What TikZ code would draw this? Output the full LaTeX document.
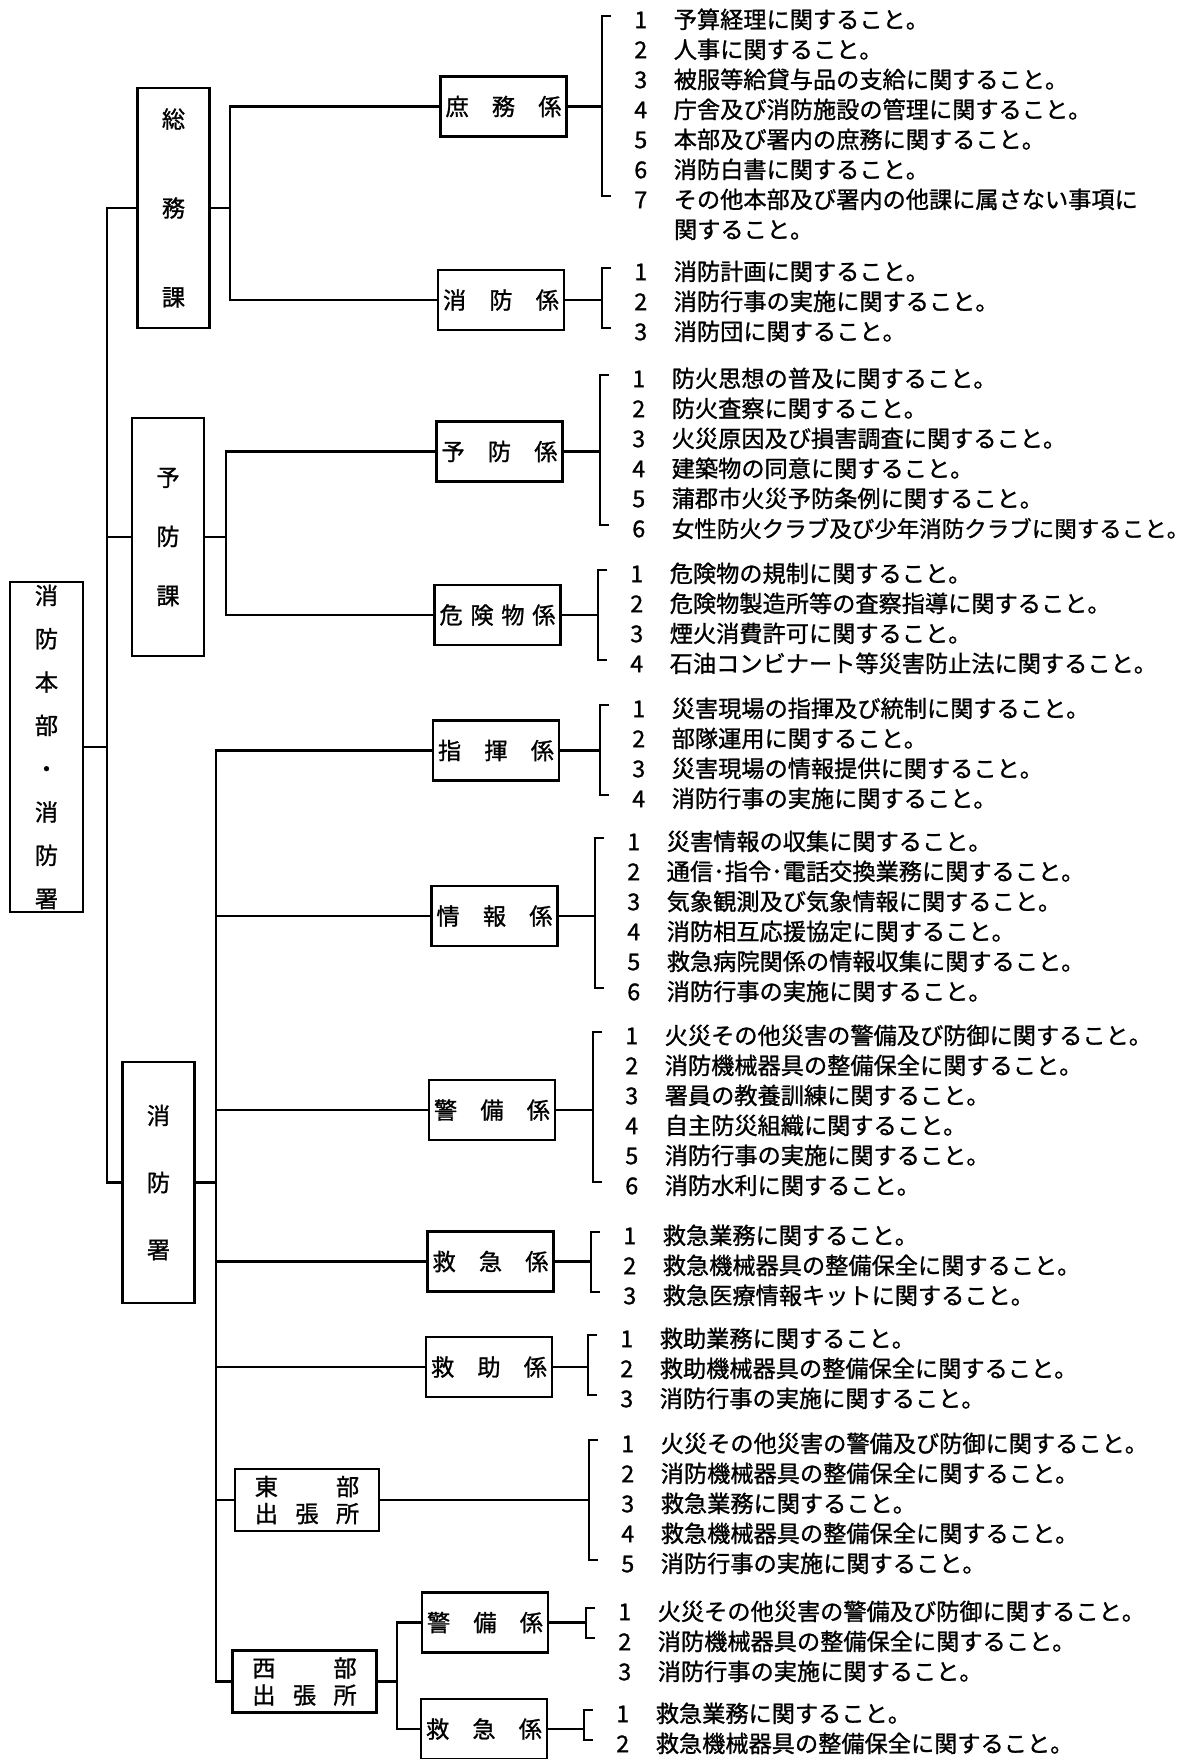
\documentclass[tikz,border=0pt]{standalone}
\usepackage{fontspec}
\setmainfont{Noto Sans CJK JP}[FakeBold=1.1]

\begin{document}
\begin{tikzpicture}[x=0.025cm, y=-0.025cm, line width=1.9pt,
    font=\fontsize{16.5pt}{21pt}\selectfont]
    %organigramme
\tikzset{
    kabox/.style={draw, inner sep=0pt, minimum width=1.8cm, align=center},
    kakari/.style={draw, inner sep=0pt, minimum width=3.15cm, minimum height=1.5cm},
    shucho/.style={draw, inner sep=0pt, minimum width=3.6cm, minimum height=1.55cm,
        align=center, font=\fontsize{16.5pt}{19.2pt}\selectfont},
    item/.style={anchor=west, inner sep=0pt, text height=0.83em, text depth=0.09em}
}
    \useasboundingbox (0,0) rectangle (1199,1759);

    % honbu et ka
    \node[kabox, minimum width=1.825cm, minimum height=8.25cm, font=\fontsize{16.5pt}{30.8pt}\selectfont](honbu) at (46.5,747) {消\\防\\本\\部\\・\\消\\防\\署};
    \node[kabox, minimum height=6cm, font=\fontsize{16.5pt}{63.3pt}\selectfont](somu) at (173.5,208) {総\\務\\課};
    \node[kabox, minimum height=5.95cm, font=\fontsize{16.5pt}{42pt}\selectfont](yobo) at (168,537) {予\\防\\課};
    \node[kabox, minimum height=6.025cm, font=\fontsize{16.5pt}{47.7pt}\selectfont](shobosho) at (158.5,1182.5) {消\\防\\署};

    % kakari
    \node[kakari](shomu) at (503.5,106.5) {\makebox[5em][s]{庶 務 係}};
    \node[kakari](shobo) at (501,300) {\makebox[5em][s]{消 防 係}};
    \node[kakari](yobokakari) at (499.5,451.5) {\makebox[5em][s]{予 防 係}};
    \node[kakari](kiken) at (497.5,615) {\makebox[5em][s]{危 険 物 係}};
    \node[kakari](shiki) at (496,750.5) {\makebox[5em][s]{指 揮 係}};
    \node[kakari](joho) at (494.5,916) {\makebox[5em][s]{情 報 係}};
    \node[kakari](keibi) at (492,1110) {\makebox[5em][s]{警 備 係}};
    \node[kakari](kyukyu) at (490.5,1261.5) {\makebox[5em][s]{救 急 係}};
    \node[kakari](kyujo) at (489,1367) {\makebox[5em][s]{救 助 係}};
    \node[shucho](tobu) at (307,1500) {\makebox[4.5em][s]{東 部}\\\makebox[4.5em][s]{出 張 所}};
    \node[shucho](seibu) at (304.5,1681.5) {\makebox[4.5em][s]{西 部}\\\makebox[4.5em][s]{出 張 所}};
    \node[kakari](seibu-keibi) at (485,1622.5) {\makebox[5em][s]{警 備 係}};
    \node[kakari](seibu-kyukyu) at (484,1729) {\makebox[5em][s]{救 急 係}};

    % jimu
    \foreach \t [count=\i] in {予算経理に関すること。, 人事に関すること。, 被服等給貸与品の支給に関すること。, 庁舎及び消防施設の管理に関すること。, 本部及び署内の庶務に関すること。, 消防白書に関すること。, その他本部及び署内の他課に属さない事項に}
        \node[item](shomu-\i) at (633,{30*\i-7}) {\makebox[1.7em][l]{\i}\t};
    \node[item](shomu-7b) at (672.7,233) {関すること。};
    \foreach \t [count=\i] in {消防計画に関すること。, 消防行事の実施に関すること。, 消防団に関すること。}
        \node[item](shobo-\i) at (633,{30*\i+245}) {\makebox[1.7em][l]{\i}\t};
    \foreach \t [count=\i] in {防火思想の普及に関すること。, 防火査察に関すること。, 火災原因及び損害調査に関すること。, 建築物の同意に関すること。, 蒲郡市火災予防条例に関すること。, {\fontsize{16pt}{21pt}\selectfont 女性防火クラブ及び少年消防クラブに関すること\makebox[.5em][l]{。}}}
        \node[item](yobokakari-\i) at (631,{30*\i+352}) {\makebox[1.7em][l]{\i}\t};
    \foreach \t [count=\i] in {危険物の規制に関すること。, 危険物製造所等の査察指導に関すること。, 煙火消費許可に関すること。, 石油コンビナート等災害防止法に関すること。}
        \node[item](kiken-\i) at (629,{30*\i+547}) {\makebox[1.7em][l]{\i}\t};
    \foreach \t [count=\i] in {災害現場の指揮及び統制に関すること。, 部隊運用に関すること。, 災害現場の情報提供に関すること。, 消防行事の実施に関すること。}
        \node[item](shiki-\i) at (631,{30*\i+682}) {\makebox[1.7em][l]{\i}\t};
    \foreach \t [count=\i] in {災害情報の収集に関すること。, 通信･指令･電話交換業務に関すること。, 気象観測及び気象情報に関すること。, 消防相互応援協定に関すること。, 救急病院関係の情報収集に関すること。, 消防行事の実施に関すること。}
        \node[item](joho-\i) at (626,{30*\i+815}) {\makebox[1.7em][l]{\i}\t};
    \foreach \t [count=\i] in {火災その他災害の警備及び防御に関すること。, 消防機械器具の整備保全に関すること。, 署員の教養訓練に関すること。, 自主防災組織に関すること。, 消防行事の実施に関すること。, 消防水利に関すること。}
        \node[item](keibi-\i) at (624,{30*\i+1009}) {\makebox[1.7em][l]{\i}\t};
    \foreach \t [count=\i] in {救急業務に関すること。, 救急機械器具の整備保全に関すること。, 救急医療情報キットに関すること。}
        \node[item](kyukyu-\i) at (622,{30*\i+1209}) {\makebox[1.7em][l]{\i}\t};
    \foreach \t [count=\i] in {救助業務に関すること。, 救助機械器具の整備保全に関すること。, 消防行事の実施に関すること。}
        \node[item](kyujo-\i) at (619,{30*\i+1312}) {\makebox[1.7em][l]{\i}\t};
    \foreach \t [count=\i] in {火災その他災害の警備及び防御に関すること。, 消防機械器具の整備保全に関すること。, 救急業務に関すること。, 救急機械器具の整備保全に関すること。, 消防行事の実施に関すること。}
        \node[item](tobu-\i) at (620,{30*\i+1417}) {\makebox[1.7em][l]{\i}\t};
    \foreach \t [count=\i] in {火災その他災害の警備及び防御に関すること。, 消防機械器具の整備保全に関すること。, 消防行事の実施に関すること。}
        \node[item](seibu-keibi-\i) at (617,{30*\i+1585}) {\makebox[1.7em][l]{\i}\t};
    \foreach \t [count=\i] in {救急業務に関すること。, 救急機械器具の整備保全に関すること。}
        \node[item](seibu-kyukyu-\i) at (615,{30*\i+1687}) {\makebox[1.7em][l]{\i}\t};

    % lignes
    \coordinate (trunk) at (107,747);
    \draw (honbu.east) -- (trunk);
    \draw (somu.west) -| (trunk) |- (shobosho.west);
    \draw (yobo.west) -- (yobo.west -| trunk);

    \coordinate (somu-bus) at (230,208);
    \draw (somu.east) -- (somu-bus);
    \draw (shomu.west) -| (somu-bus) |- (shobo.west);
    \coordinate (yobo-bus) at (226,537);
    \draw (yobo.east) -- (yobo-bus);
    \draw (yobokakari.west) -| (yobo-bus) |- (kiken.west);
    \coordinate (sho-bus) at (216,1182.5);
    \draw (shobosho.east) -- (sho-bus);
    \draw (shiki.west) -| (sho-bus) |- (seibu.west);
    \foreach \k in {joho, keibi, kyukyu, kyujo, tobu}
        \draw (\k.west) -- (\k.west -| sho-bus);
    \coordinate (seibu-bus) at (397,1681.5);
    \draw (seibu.east) -- (seibu-bus);
    \draw (seibu-keibi.west) -| (seibu-bus) |- (seibu-kyukyu.west);

    % accolades
    \foreach \g/\n/\x in {shomu/7/602, shobo/3/602, yobokakari/6/600, kiken/4/598, shiki/4/600, joho/6/595, keibi/6/593, kyukyu/3/591, kyujo/3/588, tobu/5/589, seibu-keibi/2/586, seibu-kyukyu/2/584}{
        \coordinate (\g-br) at (\g.east -| \x,0);
        \draw (\g.east) -- (\g-br);
        \draw ([shift={(-22,-7)}]\g-1.west) -| (\g-br) |- ([shift={(-22,-7)}]\g-\n.west);
    }
\end{tikzpicture}
\end{document}
